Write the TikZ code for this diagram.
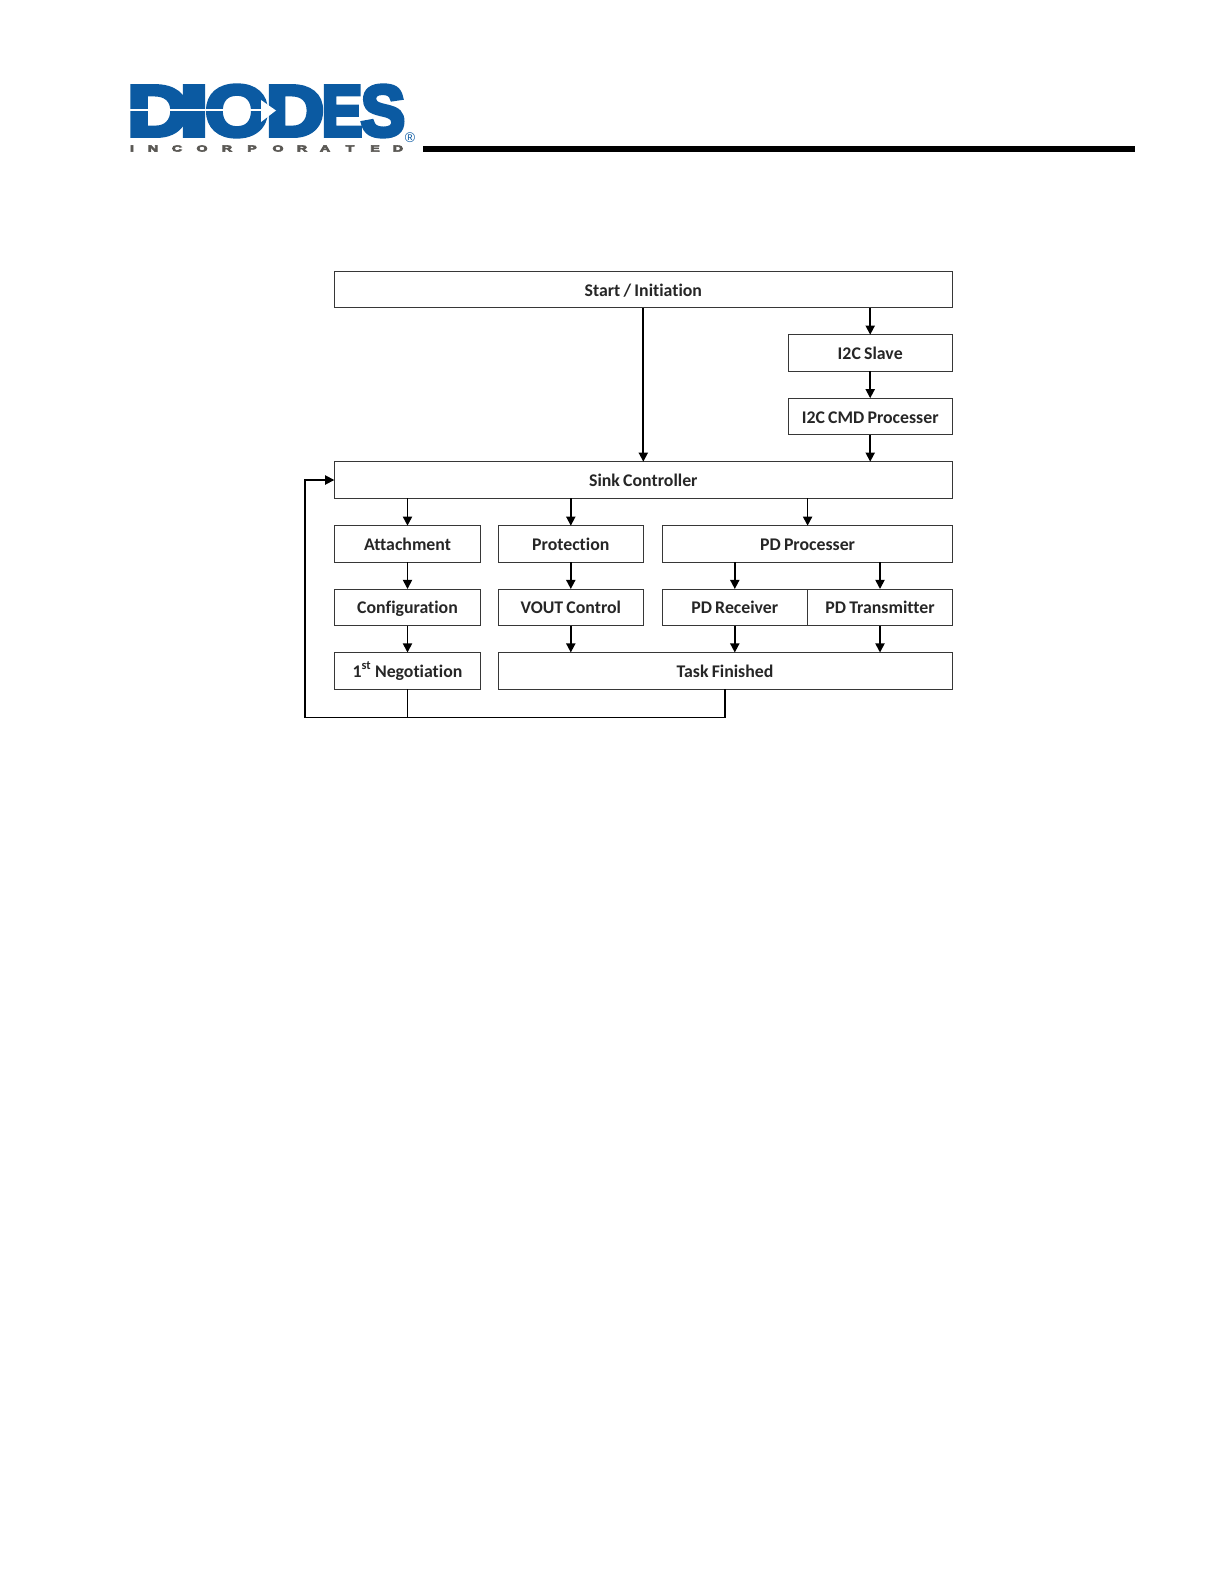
\documentclass[tikz,border=0pt]{standalone}
\usepackage{fontspec}
\setmainfont[Ligatures=CommonOff, WordSpace=0.8]{Carlito}
\newfontfamily\logofont[FakeBold=6]{Liberation Sans}
\newfontfamily\markfont{Liberation Sans}
\usepackage{xcolor}
\usetikzlibrary{arrows.meta, positioning, calc}
\definecolor{logocolor}{RGB}{11, 90, 162}
\definecolor{logogray}{RGB}{90, 88, 84}
\definecolor{boxcolor}{RGB}{55, 55, 55}

\begin{document}
\begin{tikzpicture}[
    x=0.5pt, y=-0.5pt,
    block/.style={rectangle, draw=boxcolor, line width=0.5pt, minimum height=18.3pt, inner sep=0pt, outer sep=0pt, text height=7.3pt, text depth=0.7pt, font=\bfseries\fontsize{8.9}{10}\selectfont, text=black!85},
    wide/.style={block, minimum width=309pt},
    small/.style={block, minimum width=72.6pt},
    half/.style={block, minimum width=72.6pt},
    flow/.style={-{Triangle[length=4.6pt, width=4.6pt]}, line width=0.85pt, black},
    link/.style={line width=0.85pt, black},
    logoletter/.style={inner sep=0pt, text=logocolor, font=\logofont\bfseries\fontsize{36}{36}\selectfont},
    logosmall/.style={inner sep=0pt, text=logogray, font=\logofont\bfseries\fontsize{4.4}{5}\selectfont},
]
    \useasboundingbox (0,0) rectangle (1224,1584);
    % Logo
    \foreach \x/\w/\s/\n in {158/D/1.18/a, 194/I/1.5/b, 237/O/1.14/c, 295/D/1.12/d, 342/E/0.85/e, 383/S/0.92/f} {
        \node[logoletter, xscale=\s] (logo\n) at (\x, 111) {\w};
    }
    \fill[white] (129,109.5) rectangle (264,111.5);
    \fill[white] (261,100) -- (276,110.5) -- (261,122) -- cycle;
    \foreach \x/\w/\n in {132/I/a, 153/N/b, 177/C/c, 202/O/d, 227/R/e, 252/P/f, 278/O/g, 302/R/h, 325/A/i, 350/T/j, 375/E/k, 398/D/l} {
        \node[logosmall, xscale=1.6] (inc\n) at (\x, 148.5) {\w};
    }
    \node[inner sep=0pt, text=logocolor, font=\markfont\fontsize{7}{7}\selectfont] (logoreg) at (410, 138) {®};
    % Header rule
    \fill[black] (423,146) rectangle (1135,152);
    % Blocks
    \node[wide] (start) at (643.3, 289.5) {Start / Initiation};
    \node[block, minimum width=82pt] (slave) at (870.2, 353) {I2C Slave};
    \node[block, minimum width=82pt] (cmd) at (870.2, 416.5) {I2C CMD Processer};
    \node[wide] (sink) at (643.3, 480) {Sink Controller};
    \node[small] (attach) at (407.5, 544) {Attachment};
    \node[small] (protect) at (570.8, 544) {Protection};
    \node[block, minimum width=145pt] (pd) at (807.6, 544) {PD Processer};
    \node[small] (config) at (407.5, 607.3) {Configuration};
    \node[small] (vout) at (570.8, 607.3) {VOUT Control};
    \node[half] (receiver) at (734.8, 607.3) {PD Receiver};
    \node[half] (transmit) at (880, 607.3) {PD Transmitter};
    \node[small] (nego) at (407.5, 670.8) {1\textsuperscript{st} Negotiation};
    \node[block, minimum width=227pt] (task) at (725, 670.8) {Task Finished};
    % Arrows
    \coordinate (loop) at (305, 717.5);
    \draw[flow] (start) -- (sink);
    \draw[flow] (start.south -| slave) -- (slave);
    \draw[flow] (slave) -- (cmd);
    \draw[flow] (cmd) -- (cmd |- sink.north);
    \foreach \a/\b in {attach/config, config/nego, protect/vout} {
        \draw[flow] (\a) -- (\b);
    }
    \foreach \b in {attach, protect, pd} {
        \draw[flow] (sink.south -| \b) -- (\b);
    }
    \foreach \b in {receiver, transmit} {
        \draw[flow] (pd.south -| \b) -- (\b);
    }
    \foreach \a in {vout, receiver, transmit} {
        \draw[flow] (\a) -- (\a |- task.north);
    }
    \draw[link] (nego) -- (nego |- loop);
    \draw[link] (task) |- (loop);
    \draw[flow] (loop) |- (sink);
\end{tikzpicture}
\end{document}
